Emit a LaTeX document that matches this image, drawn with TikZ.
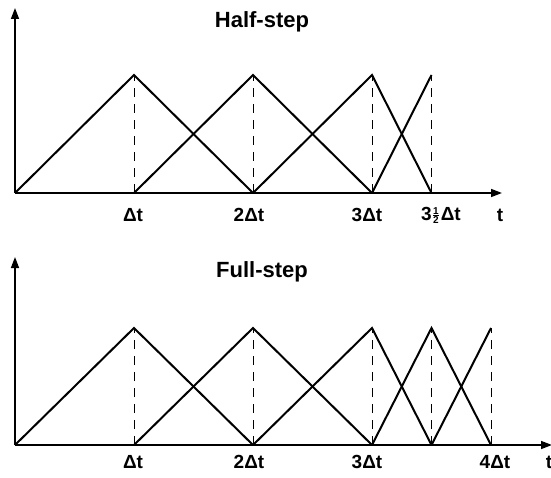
\documentclass[tikz,border=0pt]{standalone}
\usepackage{fontspec}
\setmainfont{Liberation Sans}
\usetikzlibrary{arrows.meta}
\newcommand{\halffrac}{\raisebox{-3pt}{\vbox{\fontsize{10}{10}\selectfont\bfseries
  \hbox to 6pt{\hss 1\hss}\kern0.6pt\hrule height 0.5pt\kern0.8pt\hbox to 6pt{\hss 2\hss}}}}
\begin{document}
\begin{tikzpicture}[x=1pt,y=-1pt,
  curve/.style={line width=2pt, line join=miter},
  guide/.style={line width=0.9pt, dash pattern=on 9pt off 7pt},
  axis/.style={line width=1.5pt, -{Triangle[length=11pt,width=8pt]}},
  lab/.style={font=\fontsize{19}{19}\selectfont\bfseries, inner sep=0pt},
  ttl/.style={font=\fontsize{22}{22}\selectfont\bfseries, inner sep=0pt}]
\useasboundingbox (0,0) rectangle (551,478);
% ---------- Half-step ----------
\coordinate (A0) at (15,193);
\coordinate (A1) at (134,193);
\coordinate (A2) at (253,193);
\coordinate (A3) at (372,193);
\coordinate (A35) at (431.5,193);
\coordinate (P1) at (134,75);
\coordinate (P2) at (253,75);
\coordinate (P3) at (372,75);
\coordinate (P35) at (431.5,75);
\coordinate (AY) at (15,8);
\coordinate (AX) at (502,193);
\draw[axis] (A0) -- (AY);
\draw[axis] (A0) -- (AX);
\foreach \i in {1,2,3,35} \draw[guide] (A\i) -- (P\i);
\draw[curve] (A0) -- (P1) -- (A2);
\draw[curve] (A1) -- (P2) -- (A3);
\draw[curve] (A2) -- (P3) -- (A35);
\draw[curve] (A3) -- (P35);
\node[ttl] (t1) at (262,22) {Half-step};
\node[lab] (la1) at (133,215) {Δt};
\node[lab] (la2) at (249,215) {2Δt};
\node[lab] (la3) at (367,215) {3Δt};
\node[lab] (la35) at (441,215) {3\kern1pt\halffrac\kern2pt Δt};
\node[lab] (lat) at (500,215) {t};
% ---------- Full-step ----------
\coordinate (B0) at (15,445);
\coordinate (B1) at (134,445);
\coordinate (B2) at (253,445);
\coordinate (B3) at (372,445);
\coordinate (B35) at (431.5,445);
\coordinate (B4) at (491,445);
\coordinate (Q1) at (134,328);
\coordinate (Q2) at (253,328);
\coordinate (Q3) at (372,328);
\coordinate (Q35) at (431.5,328);
\coordinate (Q4) at (491,328);
\coordinate (BY) at (15,257);
\coordinate (BX) at (552,445);
\draw[axis] (B0) -- (BY);
\draw[axis] (B0) -- (BX);
\foreach \i in {1,2,3,35,4} \draw[guide] (B\i) -- (Q\i);
\draw[curve] (B0) -- (Q1) -- (B2);
\draw[curve] (B1) -- (Q2) -- (B3);
\draw[curve] (B2) -- (Q3) -- (B35);
\draw[curve] (B3) -- (Q35) -- (B4);
\draw[curve] (B35) -- (Q4);
\node[ttl] (t2) at (262,272) {Full-step};
\node[lab] (lb1) at (133,462) {Δt};
\node[lab] (lb2) at (249,462) {2Δt};
\node[lab] (lb3) at (367,462) {3Δt};
\node[lab] (lb4) at (495,462) {4Δt};
\node[lab] (lbt) at (549,462) {t};
\end{tikzpicture}
\end{document}
